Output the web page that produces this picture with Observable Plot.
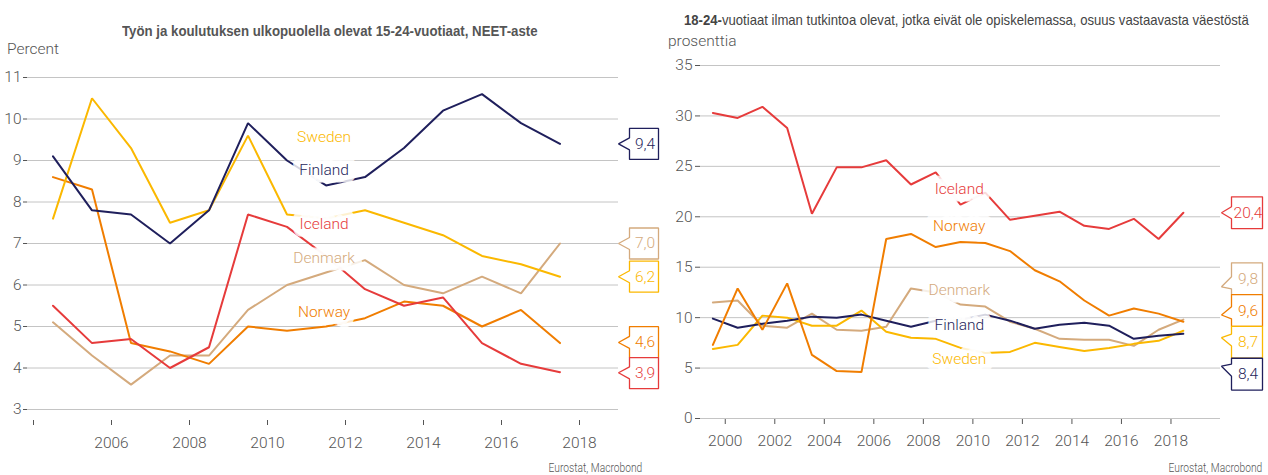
<!DOCTYPE html>
<html><head><meta charset="utf-8">
<script src="https://cdn.jsdelivr.net/npm/d3@7"></script>
<script src="https://cdn.jsdelivr.net/npm/@observablehq/plot@0.6"></script>
<style>
body{margin:0;background:#fff;}
#root{position:relative;width:1268px;height:475px;overflow:hidden;font-family:"Liberation Sans",Arial,sans-serif;}
.abs{position:absolute;white-space:nowrap;line-height:1;transform-origin:0 50%;}
.title{font-weight:bold;font-size:15px;color:#555;transform:scaleX(0.883);}
.rtitle{font-size:15px;color:#444;transform:scaleX(0.875);}
.unit{font-family:Roboto,sans-serif;font-weight:300;font-size:15.5px;color:#555;}
.cap{font-family:Roboto,sans-serif;font-weight:300;font-size:12.5px;color:#555;transform:scaleX(0.82);transform-origin:100% 50%;}
svg{position:absolute;}
</style></head><body><div id="root">
<div class="abs title" style="left:122px;top:23px;">Työn ja koulutuksen ulkopuolella olevat 15-24-vuotiaat, NEET-aste</div>
<div class="abs unit" style="left:7px;top:42px;">Percent</div>
<div class="abs cap" style="right:626px;top:462px;">Eurostat, Macrobond</div>
<div class="abs rtitle" style="left:684px;top:12px;"><b>18-24-</b>vuotiaat ilman tutkintoa olevat, jotka eivät ole opiskelemassa, osuus vastaavasta väestöstä</div>
<div class="abs unit" style="left:668px;top:34px;">prosenttia</div>
<div class="abs cap" style="right:6px;top:462px;">Eurostat, Macrobond</div>
</div>
<script>
// ---------- DATA ----------
const seriesNames = ["Finland", "Sweden", "Iceland", "Norway", "Denmark"];
const colors = {Finland: "#1f1f5c", Sweden: "#fbb800", Iceland: "#e63b3b", Norway: "#f07d00", Denmark: "#d4aa7d"};

// Left: NEET rate 15-24, percent
const leftYears = [2004, 2005, 2006, 2007, 2008, 2009, 2010, 2011, 2012, 2013, 2014, 2015, 2016, 2017];
const leftFinland = [9.1, 7.8, 7.7, 7.0, 7.8, 9.9, 9.0, 8.4, 8.6, 9.3, 10.2, 10.6, 9.9, 9.4];
const leftSweden  = [7.6, 10.5, 9.3, 7.5, 7.8, 9.6, 7.7, 7.6, 7.8, 7.5, 7.2, 6.7, 6.5, 6.2];
const leftIceland = [5.5, 4.6, 4.7, 4.0, 4.5, 7.7, 7.4, 6.7, 5.9, 5.5, 5.7, 4.6, 4.1, 3.9];
const leftNorway  = [8.6, 8.3, 4.6, 4.4, 4.1, 5.0, 4.9, 5.0, 5.2, 5.6, 5.5, 5.0, 5.4, 4.6];
const leftDenmark = [5.1, 4.3, 3.6, 4.3, 4.3, 5.4, 6.0, 6.3, 6.6, 6.0, 5.8, 6.2, 5.8, 7.0];
const leftYTicks = [3, 4, 5, 6, 7, 8, 9, 10, 11];
const leftXTicks = [2004, 2006, 2008, 2010, 2012, 2014, 2016, 2018];

// Right: early leavers 18-24, percent
const rightYears = [1999, 2000, 2001, 2002, 2003, 2004, 2005, 2006, 2007, 2008, 2009, 2010, 2011, 2012, 2013, 2014, 2015, 2016, 2017, 2018];
const rightIceland = [30.3, 29.8, 30.9, 28.8, 20.3, 24.9, 24.9, 25.6, 23.2, 24.4, 21.2, 22.4, 19.7, 20.1, 20.5, 19.1, 18.8, 19.8, 17.8, 20.4];
const rightNorway  = [7.3, 12.9, 8.8, 13.4, 6.3, 4.7, 4.6, 17.8, 18.3, 17.0, 17.5, 17.4, 16.6, 14.7, 13.6, 11.7, 10.2, 10.9, 10.4, 9.6];
const rightDenmark = [11.5, 11.7, 9.2, 9.0, 10.4, 8.8, 8.7, 9.1, 12.9, 12.5, 11.3, 11.1, 9.6, 8.9, 7.9, 7.8, 7.8, 7.2, 8.8, 9.8];
const rightFinland = [9.9, 9.0, 9.4, 9.7, 10.1, 10.0, 10.3, 9.7, 9.1, 9.7, 9.8, 10.3, 9.7, 8.9, 9.3, 9.5, 9.2, 7.9, 8.2, 8.4];
const rightSweden  = [6.9, 7.3, 10.2, 10.0, 9.2, 9.2, 10.7, 8.6, 8.0, 7.9, 7.0, 6.5, 6.6, 7.5, 7.1, 6.7, 7.0, 7.4, 7.7, 8.7];
const rightYTicks = [0, 5, 10, 15, 20, 25, 30, 35];
const rightXTicks = [2000, 2002, 2004, 2006, 2008, 2010, 2012, 2014, 2016, 2018];

// Series label placements (annotation anchors, data units)
const leftLabels = [
  {name: "Sweden", x: 2011.45, y: 9.57},
  {name: "Finland", x: 2011.45, y: 8.76},
  {name: "Iceland", x: 2011.45, y: 7.48},
  {name: "Denmark", x: 2011.45, y: 6.66},
  {name: "Norway", x: 2011.45, y: 5.36}
];
const rightLabels = [
  {name: "Iceland", x: 2009.45, y: 22.8},
  {name: "Norway", x: 2009.45, y: 19.1},
  {name: "Denmark", x: 2009.45, y: 12.75},
  {name: "Finland", x: 2009.45, y: 9.25},
  {name: "Sweden", x: 2009.45, y: 5.85}
];

// ---------- BUILD ----------
const FONT = 'Roboto, "Liberation Sans", sans-serif';

function rows(years, table) {
  return seriesNames.map(name => ({name, pts: years.map((yr, i) => ({name, x: yr + 0.5, v: table[name][i]}))}));
}

function layoutCallouts(items, h) {
  items.sort((a, b) => a.py - b.py);
  let groups = items.map(d => ({items: [d], center: d.py}));
  let merged = true;
  while (merged) {
    merged = false;
    for (let i = 0; i < groups.length - 1; i++) {
      const g = groups[i], n = groups[i + 1];
      const gb = g.center + g.items.length * h / 2;
      const nt = n.center - n.items.length * h / 2;
      if (gb > nt + 0.5) {
        const its = [...g.items, ...n.items];
        groups.splice(i, 2, {items: its, center: d3.mean(its, d => d.py)});
        merged = true; break;
      }
    }
  }
  groups.forEach(g => {
    const top = g.center - g.items.length * h / 2;
    g.items.forEach((d, k) => { d.top = top + k * h; d.bottom = d.top + h; d.cy = d.top + h / 2; });
  });
}

function chart(cfg) {
  const {width, height, ml, mr, mt, mb, xDomain, yDomain, series, labels, yTicks, xTicks, xFormat, yTickSize, yTickPad, xTickSize, xTickPad, cal} = cfg;
  const xs = Plot.scale({x: {domain: xDomain, range: [ml, width - mr]}});
  const ys = Plot.scale({y: {domain: yDomain, range: [height - mb, mt]}});
  const marks = [Plot.ruleY(yTicks, {stroke: "#c4c4c4", strokeWidth: 1})];
  for (const name of cfg.drawOrder) {
    const s = series.find(d => d.name === name);
    marks.push(Plot.line(s.pts, {x: "x", y: "v", stroke: colors[name], strokeWidth: 2, strokeLinejoin: "miter"}));
  }
  marks.push(Plot.text(labels, {x: "x", y: "y", text: "name", fill: "white", stroke: "white", strokeWidth: 15, strokeOpacity: 0.82, strokeLinejoin: "round", fontSize: 15.5, fontWeight: 300, fontFamily: FONT}));
  marks.push(Plot.text(labels, {x: "x", y: "y", text: "name", fill: d => colors[d.name], fontSize: 15.5, fontWeight: 300, fontFamily: FONT}));

  // end-value callouts
  const items = series.map(s => {
    const last = s.pts[s.pts.length - 1];
    return {name: s.name, v: last.v, py: ys.apply(last.v)};
  });
  layoutCallouts(items, cal.h);
  const tipX = width - mr + cal.tipOff;
  const bx0 = tipX + cal.gap, bx1 = tipX + cal.gap + cal.w;
  for (const it of items) {
    const tipY = it.cy + Math.max(-8, Math.min(8, 0.4 * (it.py - it.cy)));
    let bc = (it.cy + tipY) / 2;
    bc = Math.max(it.top + 8, Math.min(it.bottom - 8, bc));
    const poly = [
      [bx0, it.top], [bx1, it.top], [bx1, it.bottom], [bx0, it.bottom],
      [bx0, bc + 6], [tipX, tipY], [bx0, bc - 6], [bx0, it.top]
    ].map(([px, py]) => ({x: xs.invert(px), y: ys.invert(py)}));
    marks.push(Plot.line(poly, {x: "x", y: "y", fill: "white", stroke: colors[it.name], strokeWidth: 1.3, strokeLinejoin: "miter"}));
    marks.push(Plot.text([{x: xs.invert((bx0 + bx1) / 2 + 1), y: ys.invert(it.cy), t: it.v.toFixed(1).replace(".", ",")}],
      {x: "x", y: "y", text: "t", fill: colors[it.name], fontSize: 15.5, fontWeight: 300, fontFamily: FONT}));
  }

  return Plot.plot({
    width, height, marginLeft: ml, marginRight: mr, marginTop: mt, marginBottom: mb,
    x: {domain: xDomain, ticks: xTicks, tickFormat: xFormat, tickSize: xTickSize, tickPadding: xTickPad, label: null},
    y: {domain: yDomain, ticks: yTicks, tickSize: yTickSize, tickPadding: yTickPad, tickFormat: d => String(d), label: null},
    style: {background: "transparent", fontFamily: FONT, fontWeight: 300, fontSize: "15.5px", color: "#555", overflow: "visible"},
    marks
  });
}

const leftTable = {Finland: leftFinland, Sweden: leftSweden, Iceland: leftIceland, Norway: leftNorway, Denmark: leftDenmark};
const rightTable = {Finland: rightFinland, Sweden: rightSweden, Iceland: rightIceland, Norway: rightNorway, Denmark: rightDenmark};

const left = chart({
  width: 665, height: 415, ml: 27, mr: 47, mt: 17, mb: 55,
  xDomain: [2003.846, 2019], yDomain: [2.735, 11],
  series: rows(leftYears, leftTable), labels: leftLabels,
  yTicks: leftYTicks, xTicks: leftXTicks, xFormat: d => d === 2004 ? "" : String(d),
  yTickSize: 4, yTickPad: 2, xTickSize: 5, xTickPad: 11,
  drawOrder: ["Denmark", "Norway", "Iceland", "Sweden", "Finland"],
  cal: {h: 31, w: 29, gap: 11, tipOff: 0}
});
left.style.left = "0px"; left.style.top = "60px";

const right = chart({
  width: 628, height: 425, ml: 60, mr: 48, mt: 15, mb: 57,
  xDomain: [1999, 2020], yDomain: [0, 35],
  series: rows(rightYears, rightTable), labels: rightLabels,
  yTicks: rightYTicks, xTicks: rightXTicks, xFormat: d => String(d),
  yTickSize: 5, yTickPad: 3, xTickSize: 6, xTickPad: 10,
  drawOrder: ["Denmark", "Sweden", "Finland", "Norway", "Iceland"],
  cal: {h: 31.8, w: 31, gap: 10, tipOff: 1}
});
right.style.left = "640px"; right.style.top = "50px";

const root = document.getElementById("root");
root.appendChild(left);
root.appendChild(right);
</script>
</body></html>
